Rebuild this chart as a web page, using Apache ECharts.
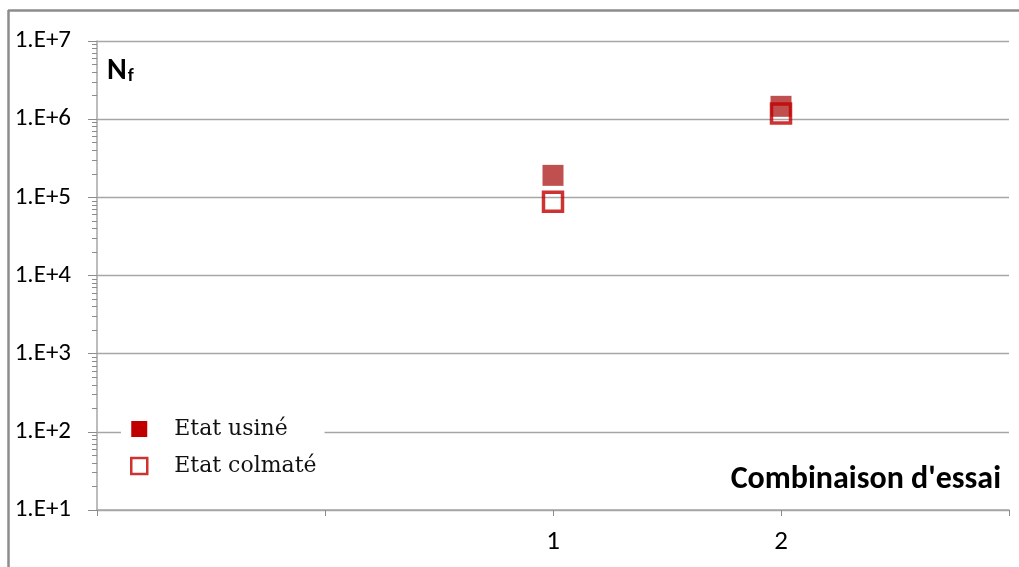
<!DOCTYPE html>
<html>
<head>
<meta charset="utf-8">
<script src="https://cdn.jsdelivr.net/npm/echarts@6/dist/echarts.min.js"></script>
<style>
html,body{margin:0;padding:0;background:#fff;}
#chart{width:1019px;height:567px;}
</style>
</head>
<body>
<div id="chart"></div>
<script>
// Data
var seriesNames = ['Etat usiné', 'Etat colmaté'];
var combos = [1, 2];
var usineValues = [1.91e5, 1.46e6];
var colmateValues = [8.8e4, 1.18e6];
var xTickLabels = {'1': '1', '2': '2'};
var yAxisTitle = 'N';
var yAxisSub = 'f';
var xAxisTitle = "Combinaison d'essai";

function pairs(xs, ys) { return xs.map(function (x, i) { return [x, ys[i]]; }); }

var chart = echarts.init(document.getElementById('chart'), null, {renderer: 'canvas'});
var labelFont = 'Carlito, "Open Sans", "Liberation Sans", sans-serif';
var option = {
  animation: false,
  backgroundColor: '#fff',
  grid: {left: 97, right: 10, top: 41, bottom: 57, containLabel: false},
  xAxis: {
    type: 'value', min: -1, max: 3, interval: 1,
    axisLine: {show: true, onZero: false, lineStyle: {color: '#a6a6a6', width: 1.5}},
    axisTick: {show: true, length: 6, lineStyle: {color: '#8c8c8c'}},
    splitLine: {show: false},
    axisLabel: {
      margin: 19, fontSize: 27, color: '#000', fontFamily: labelFont,
      formatter: function (v) { return xTickLabels[String(v)] || ''; }
    }
  },
  yAxis: {
    type: 'log', logBase: 10, min: 10, max: 1e7,
    axisLine: {show: true, onZero: false, lineStyle: {color: '#a6a6a6', width: 1.5}},
    axisTick: {show: true, length: 9, lineStyle: {color: '#8c8c8c'}},
    minorTick: {show: true, splitNumber: 9, length: 5, lineStyle: {color: '#8c8c8c'}},
    splitLine: {show: true, lineStyle: {color: '#a6a6a6', width: 1.3}},
    axisLabel: {
      margin: 26, fontSize: 25, color: '#000', fontFamily: labelFont,
      formatter: function (v) { return '1.E+' + Math.round(Math.log10(v)); }
    }
  },
  legend: {
    left: 121, top: 412, orient: 'vertical', itemGap: 15,
    itemWidth: 16, itemHeight: 16,
    backgroundColor: '#fff', padding: [6, 8, 6, 9],
    textStyle: {fontFamily: '"DejaVu Serif", "Liberation Serif", serif', fontSize: 22, color: '#111', padding: [0, 0, 0, 22]},
    data: [
      {name: seriesNames[0], icon: 'rect', itemStyle: {color: '#c00000', opacity: 1}},
      {name: seriesNames[1], icon: 'rect', itemStyle: {color: '#fff', borderColor: '#c00000', borderWidth: 2.5}}
    ]
  },
  graphic: [
    {type: 'line', shape: {x1: 8, y1: 10.5, x2: 1019, y2: 10.5}, style: {stroke: '#8c8c8c', lineWidth: 2.5}},
    {type: 'line', shape: {x1: 8.5, y1: 10, x2: 8.5, y2: 567}, style: {stroke: '#8c8c8c', lineWidth: 2.5}},
    {type: 'text', left: 107, top: 56, style: {
      text: '{n|' + yAxisTitle + '}{s|' + yAxisSub + '}',
      rich: {
        n: {fontFamily: labelFont, fontWeight: 'bold', fontSize: 30, fill: '#000', verticalAlign: 'bottom'},
        s: {fontFamily: labelFont, fontWeight: 'bold', fontSize: 19, fill: '#000', padding: [12, 0, 0, 1], verticalAlign: 'bottom'}
      }
    }},
    {type: 'text', right: 18, top: 464, style: {
      text: xAxisTitle, fontFamily: labelFont, fontWeight: 'bold', fontSize: 32, fill: '#000'
    }}
  ],
  series: [
    {
      name: seriesNames[0], type: 'scatter', symbol: 'rect', symbolSize: 21, z: 2,
      itemStyle: {color: '#a30000', opacity: 0.69},
      data: pairs(combos, usineValues)
    },
    {
      name: seriesNames[1], type: 'scatter', symbol: 'rect', symbolSize: 19, z: 3,
      itemStyle: {color: 'rgba(255,255,255,0.0)', borderColor: '#c00000', borderWidth: 3.5},
      data: pairs(combos, colmateValues)
    }
  ]
};
chart.setOption(option);
</script>
</body>
</html>
